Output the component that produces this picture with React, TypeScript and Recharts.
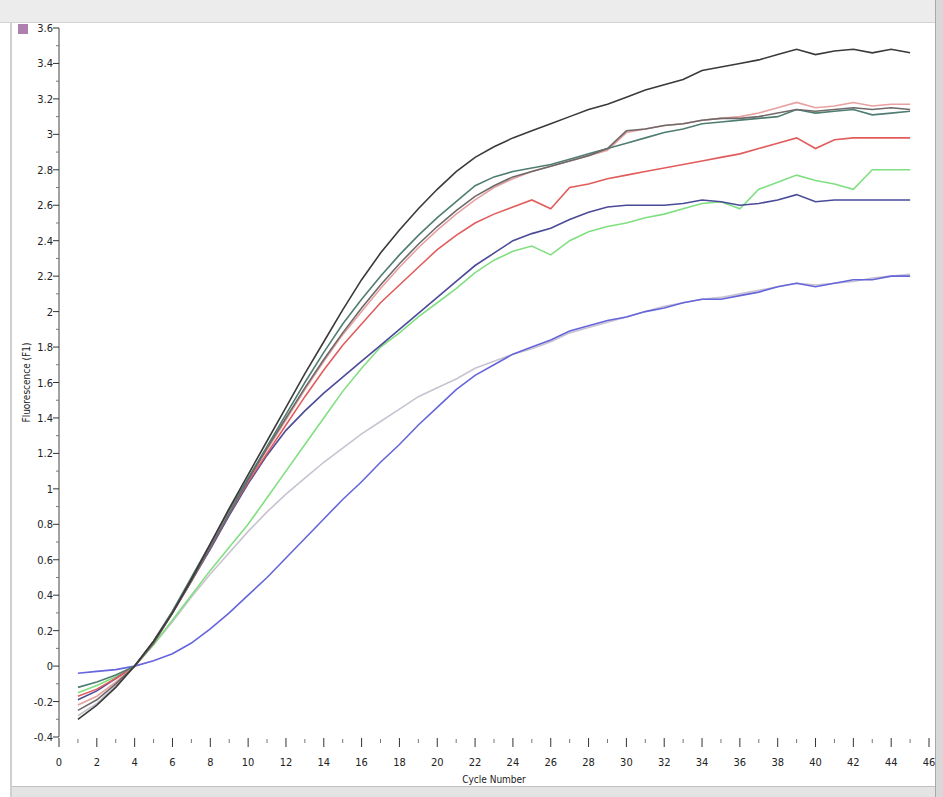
import React from 'react';
import { LineChart, Line, XAxis, YAxis } from 'recharts';

const cycles = [1,2,3,4,5,6,7,8,9,10,11,12,13,14,15,16,17,18,19,20,21,22,23,24,25,26,27,28,29,30,31,32,33,34,35,36,37,38,39,40,41,42,43,44,45];

const blackSeries = [-0.30,-0.22,-0.12,0.00,0.14,0.30,0.49,0.69,0.89,1.08,1.27,1.46,1.65,1.83,2.01,2.18,2.33,2.46,2.58,2.69,2.79,2.87,2.93,2.98,3.02,3.06,3.10,3.14,3.17,3.21,3.25,3.28,3.31,3.36,3.38,3.40,3.42,3.45,3.48,3.45,3.47,3.48,3.46,3.48,3.46];
const tealSeries = [-0.12,-0.09,-0.05,0.00,0.14,0.31,0.50,0.69,0.88,1.06,1.24,1.42,1.60,1.77,1.93,2.07,2.20,2.32,2.43,2.53,2.62,2.71,2.76,2.79,2.81,2.83,2.86,2.89,2.92,2.95,2.98,3.01,3.03,3.06,3.07,3.08,3.09,3.10,3.14,3.12,3.13,3.14,3.11,3.12,3.13];
const graySeries = [-0.25,-0.19,-0.10,0.00,0.13,0.30,0.48,0.67,0.86,1.05,1.23,1.40,1.57,1.73,1.88,2.02,2.15,2.27,2.38,2.48,2.57,2.65,2.71,2.76,2.79,2.82,2.85,2.88,2.92,3.02,3.03,3.05,3.06,3.08,3.09,3.09,3.10,3.12,3.14,3.13,3.14,3.15,3.14,3.15,3.14];
const pinkSeries = [-0.22,-0.17,-0.09,0.00,0.14,0.31,0.49,0.68,0.87,1.05,1.22,1.39,1.56,1.72,1.87,2.00,2.13,2.25,2.36,2.46,2.55,2.63,2.70,2.75,2.79,2.82,2.85,2.88,2.91,3.01,3.03,3.05,3.06,3.08,3.09,3.10,3.12,3.15,3.18,3.15,3.16,3.18,3.16,3.17,3.17];
const redSeries = [-0.17,-0.13,-0.07,0.00,0.13,0.30,0.48,0.67,0.86,1.04,1.20,1.36,1.52,1.67,1.81,1.93,2.05,2.15,2.25,2.35,2.43,2.50,2.55,2.59,2.63,2.58,2.70,2.72,2.75,2.77,2.79,2.81,2.83,2.85,2.87,2.89,2.92,2.95,2.98,2.92,2.97,2.98,2.98,2.98,2.98];
const darkBlueSeries = [-0.19,-0.14,-0.07,0.00,0.13,0.30,0.48,0.66,0.85,1.03,1.19,1.33,1.44,1.54,1.63,1.72,1.81,1.90,1.99,2.08,2.17,2.26,2.33,2.40,2.44,2.47,2.52,2.56,2.59,2.60,2.60,2.60,2.61,2.63,2.62,2.60,2.61,2.63,2.66,2.62,2.63,2.63,2.63,2.63,2.63];
const greenSeries = [-0.15,-0.11,-0.06,0.00,0.12,0.26,0.40,0.54,0.67,0.80,0.95,1.10,1.25,1.40,1.55,1.68,1.80,1.88,1.97,2.05,2.13,2.22,2.29,2.34,2.37,2.32,2.40,2.45,2.48,2.50,2.53,2.55,2.58,2.61,2.62,2.58,2.69,2.73,2.77,2.74,2.72,2.69,2.80,2.80,2.80];
const lavenderSeries = [-0.28,-0.21,-0.11,0.00,0.12,0.25,0.39,0.52,0.64,0.76,0.87,0.97,1.06,1.15,1.23,1.31,1.38,1.45,1.52,1.57,1.62,1.68,1.72,1.76,1.79,1.83,1.88,1.91,1.94,1.97,2.00,2.03,2.05,2.07,2.08,2.10,2.12,2.14,2.16,2.15,2.16,2.17,2.19,2.20,2.21];
const blueSeries = [-0.04,-0.03,-0.02,0.00,0.03,0.07,0.13,0.21,0.30,0.40,0.50,0.61,0.72,0.83,0.94,1.04,1.15,1.25,1.36,1.46,1.56,1.64,1.70,1.76,1.80,1.84,1.89,1.92,1.95,1.97,2.00,2.02,2.05,2.07,2.07,2.09,2.11,2.14,2.16,2.14,2.16,2.18,2.18,2.20,2.20];

const xTicks = [0,1,2,3,4,5,6,7,8,9,10,11,12,13,14,15,16,17,18,19,20,21,22,23,24,25,26,27,28,29,30,31,32,33,34,35,36,37,38,39,40,41,42,43,44,45,46];
const yTicks = [-0.4,-0.3,-0.2,-0.1,0,0.1,0.2,0.3,0.4,0.5,0.6,0.7,0.8,0.9,1,1.1,1.2,1.3,1.4,1.5,1.6,1.7,1.8,1.9,2,2.1,2.2,2.3,2.4,2.5,2.6,2.7,2.8,2.9,3,3.1,3.2,3.3,3.4,3.5,3.6];

const seriesDefs = [
  { key: 'lavender', values: lavenderSeries, color: '#c9c2d0' },
  { key: 'blue', values: blueSeries, color: '#6565dc' },
  { key: 'green', values: greenSeries, color: '#80df80' },
  { key: 'darkBlue', values: darkBlueSeries, color: '#4a4a98' },
  { key: 'red', values: redSeries, color: '#e25c5c' },
  { key: 'pink', values: pinkSeries, color: '#e8a0a0' },
  { key: 'teal', values: tealSeries, color: '#4f7d72' },
  { key: 'gray', values: graySeries, color: '#6e6a6a' },
  { key: 'black', values: blackSeries, color: '#3a3a3a' },
];

const data = cycles.map((c, i) => {
  const row: any = { cycle: c };
  seriesDefs.forEach((s) => { row[s.key] = s.values[i]; });
  return row;
});

const FONT = '"Liberation Sans Narrow", "DejaVu Sans Condensed", "Liberation Sans", Arial, sans-serif';

const fmtY = (v: number) => {
  const r = Math.round(v * 10) / 10;
  return String(r);
};

const XTick = (props: any) => {
  const { x, y, payload } = props;
  const v = payload.value;
  const major = v % 2 === 0;
  return (
    <g>
      {major ? (
        <line x1={x} x2={x} y1={y + 1} y2={y + 10} stroke="#333" strokeWidth={1} />
      ) : (
        <line x1={x} x2={x} y1={y + 2} y2={y + 6} stroke="#777" strokeWidth={1} />
      )}
      {major && (
        <text x={x} y={y + 29} textAnchor="middle" fontSize={11} fontFamily={FONT} fill="#222">
          {v}
        </text>
      )}
    </g>
  );
};

const YTick = (props: any) => {
  const { x, y, payload } = props;
  const v = payload.value;
  const k = Math.round(v * 10);
  const major = k % 2 === 0;
  return (
    <g>
      {major ? (
        <line x1={x - 6} x2={x} y1={y} y2={y} stroke="#333" strokeWidth={1} />
      ) : (
        <line x1={x - 3} x2={x} y1={y} y2={y} stroke="#777" strokeWidth={1} />
      )}
      {major && (
        <text x={x - 6} y={y + 4} textAnchor="end" fontSize={11} fontFamily={FONT} fill="#222">
          {fmtY(v)}
        </text>
      )}
    </g>
  );
};

export default function App() {
  return (
    <div style={{ position: 'fixed', left: 0, top: 0, width: 943, height: 797, background: '#ffffff', overflow: 'hidden' }}>
      <div style={{ position: 'absolute', left: 0, top: 0, width: 943, height: 22, background: '#ececec', borderBottom: '1px solid #d2d2d2' }} />
      <div style={{ position: 'absolute', left: 10, top: 22, width: 2, height: 775, background: '#cfcfcf' }} />
      <div style={{ position: 'absolute', left: 935, top: 0, width: 8, height: 797, background: '#d8d8d8', borderLeft: '1px solid #a8a8a8' }} />
      <div style={{ position: 'absolute', left: 12, top: 786, width: 923, height: 11, background: '#e4e4e4', borderTop: '1px solid #c0c0c0' }} />
      <div style={{ position: 'absolute', left: 18, top: 24, width: 10, height: 10, background: '#8a4a8a', opacity: 0.7 }} />
      <div style={{ position: 'absolute', left: 0, top: 0 }}>
        <LineChart width={943} height={797} data={data} margin={{ top: 28, right: 14, left: 9, bottom: 0 }}>
          <XAxis
            dataKey="cycle"
            type="number"
            domain={[0, 46]}
            ticks={xTicks}
            interval={0}
            height={60}
            axisLine={false}
            tickLine={false}
            tickSize={0}
            tickMargin={0}
            tick={<XTick />}
            label={{ value: 'Cycle Number', position: 'insideBottom', offset: 14, style: { fontSize: 10, fontFamily: FONT, fill: '#222' } }}
          />
          <YAxis
            type="number"
            domain={[-0.4, 3.6]}
            ticks={yTicks}
            interval={0}
            width={50}
            axisLine={{ stroke: '#444' }}
            tickLine={false}
            tickSize={0}
            tickMargin={0}
            tick={<YTick />}
            label={{ value: 'Fluorescence (F1)', angle: -90, position: 'insideLeft', offset: 17, style: { fontSize: 10, fontFamily: FONT, fill: '#222', textAnchor: 'middle' } }}
          />
          {seriesDefs.map((s) => (
            <Line
              key={s.key}
              dataKey={s.key}
              type="linear"
              stroke={s.color}
              strokeWidth={1.6}
              dot={false}
              isAnimationActive={false}
            />
          ))}
        </LineChart>
      </div>
    </div>
  );
}
